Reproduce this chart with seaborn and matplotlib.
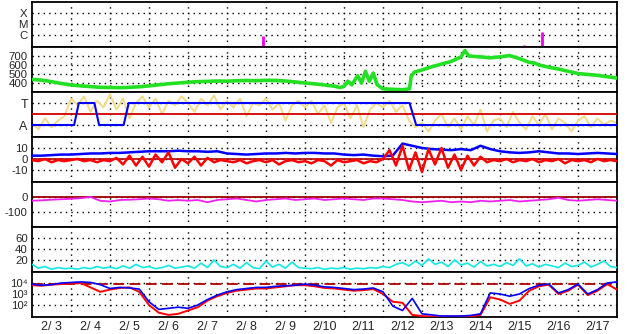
import numpy as np
import matplotlib
matplotlib.use("Agg")
import matplotlib.pyplot as plt
import seaborn as sns

# ---------------- data ----------------
day_labels = ["2/ 3", "2/ 4", "2/ 5", "2/ 6", "2/ 7", "2/ 8", "2/ 9", "2/10",
              "2/11", "2/12", "2/13", "2/14", "2/15", "2/16", "2/17"]

# X-ray flares (day, height in class units: C=1.1, M=2.1, X=3.1)
flare_day = [0.13, 5.93, 12.61, 13.07]
flare_level = [0.1, 1.02, 0.2, 1.38]

# solar wind speed (km/s)
speed_day = [0.0, 0.25, 0.5, 0.75, 1.0, 1.25, 1.5, 1.75, 2.0, 2.25, 2.5, 2.75,
             3.0, 3.25, 3.5, 3.75, 4.0, 4.25, 4.5, 4.75, 5.0, 5.25, 5.5, 5.75,
             6.0, 6.25, 6.5, 6.75, 7.0, 7.25, 7.5, 7.75, 7.9, 8.0, 8.1, 8.2,
             8.35, 8.45, 8.55, 8.65, 8.75, 8.85, 9.0, 9.25, 9.5, 9.68, 9.72,
             9.8, 10.0, 10.25, 10.5, 10.75, 11.0, 11.1, 11.2, 11.5, 11.75,
             12.0, 12.25, 12.5, 12.75, 12.9, 13.0, 13.25, 13.5, 13.75, 14.0,
             14.25, 14.5, 14.75, 15.0]
speed_val = [440, 432, 415, 395, 378, 368, 360, 352, 350, 348, 352, 358,
             368, 380, 392, 400, 408, 415, 418, 422, 420, 425, 428, 425,
             430, 428, 422, 412, 400, 390, 378, 365, 350, 362, 420, 380,
             480, 400, 530, 420, 510, 380, 335, 330, 325, 335, 470,
             520, 545, 580, 610, 640, 690, 760, 700, 690, 680,
             690, 705, 670, 630, 620, 600, 575, 555, 530, 505,
             495, 485, 470, 455]

# IMF sector (A = 0, T = 1), 6 per day
phi_val = [0.1, -0.2, 0.3, -0.1, 0.2, 0.4,
           1.2, 0.9, 1.3, 0.6, 1.1, 0.8,
           1.4, 0.7, 1.2, 0.3, 1.0, 1.3,
           0.8, 1.2, 0.5, 1.1, 0.9, 1.3,
           1.0, 0.6, 1.2, 0.9, 1.35, 0.7,
           1.1, 0.8, 1.2, 0.4, 1.0, 0.9,
           1.2, 0.7, 1.0, 0.2, 0.9, 1.1,
           0.8, 1.1, 0.5, 0.9, 0.1, 0.8,
           1.0, 0.3, 0.9, -0.1, 0.7, 1.0,
           0.8, 1.1, 0.6, 0.9, 0.2, -0.1,
           0.1, -0.3, 0.2, 0.5, -0.1, 0.3,
           -0.2, 0.4, 0.0, 0.7, -0.3, 0.2,
           0.3, -0.1, 0.6, 0.1, -0.2, 0.4,
           0.0, 0.5, -0.2, 0.3, 0.1, -0.3,
           0.2, 0.4, -0.1, 0.3, 0.0, 0.2, 0.1]
sector_day = [0.0, 1.08, 1.2, 1.6, 1.72, 2.35, 2.48, 9.68, 9.85, 15.0]
sector_val = [0, 0, 1, 1, 0, 0, 1, 1, 0, 0]

# IMF Bt (4 per day) and Bz (6 per day), nT
bt_val = [3, 3, 3.5, 4,
          4, 4.5, 5, 5,
          5.5, 5.5, 6, 6.5,
          7, 7, 7, 7.5,
          7, 7, 6.5, 7,
          5, 4.5, 4, 4.5,
          5, 5, 5.5, 5,
          5.5, 5.5, 5, 5,
          4, 3.5, 4, 3,
          2.5, 3, 14, 12,
          10, 9, 8.5, 8,
          9, 8, 12, 9,
          7, 6, 5.5, 6,
          7, 6, 5, 5,
          4.5, 5, 5.5, 5, 4.5]
bz_val = [-1, -2, 0, -3, -1, -2,
          -1, 0, -2, -1, -3, -1,
          -2, 1, -5, 3, -6, 2,
          -7, 4, -3, 6, -8, 0,
          -4, 2, -6, 1, -3, -1,
          -2, -3, -1, -4, -2, -1,
          -3, -1, -5, -2, -1, -3,
          -2, -4, -1, -2, -6, -1,
          -3, -2, -1, -4, -2, -3,
          0, 8, -6, 12, -10, 6,
          -12, 9, -5, 10, -8, 4,
          -10, 3, -6, 2, -3, -1,
          -2, 0, -3, -1, -2, 0,
          -3, -1, -2, 0, -4, -1,
          -2, -1, -3, 0, -2, -1, -2]

# Dst (nT), 4 per day
dst_val = [-25, -22, -18, -15,
           -12, -8, 0, -25,
           -30, -20, -18, -15,
           -10, -15, -25, -20,
           -25, -20, -35, -20,
           -15, -10, -20, -30,
           -20, -15, -10, -20,
           -15, -10, -20, -15,
           -10, -15, -20, -10,
           -10, -15, -20, -30,
           -35, -30, -25, -35,
           -30, -35, -25, -30,
           -25, -20, -30, -25,
           -20, -15, -5, -20,
           -25, -20, -15, -20, -25]

# cyan index, 6 per day
cyan_val = [12, 5, 8, 3, 6, 4,
            5, 3, 6, 4, 8, 5,
            7, 4, 9, 5, 12, 6,
            8, 4, 6, 10, 5, 7,
            9, 5, 14, 6, 20, 8,
            6, 12, 5, 15, 6, 4,
            18, 7, 12, 5, 16, 6,
            5, 4, 6, 3, 5, 4,
            6, 3, 5, 4, 6, 5,
            8, 6, 12, 15, 9, 18,
            10, 22, 12, 16, 8, 20,
            11, 14, 7, 17, 9, 12,
            8, 15, 10, 22, 9, 13,
            7, 12, 9, 6, 14, 8,
            10, 16, 7, 12, 18, 8, 6]

# electron flux, log10, 4 per day
e_blue_log = [3.9, 3.8, 3.85, 4.0,
              4.05, 4.1, 4.05, 3.85,
              3.5, 3.6, 3.55, 3.45,
              2.3, 1.6, 1.7, 1.8,
              1.7, 2.0, 2.5, 2.9,
              3.2, 3.4, 3.5, 3.6,
              3.6, 3.7, 3.75, 3.8,
              3.9, 3.8, 3.65, 3.6,
              3.5, 3.4, 3.45, 3.55,
              3.2, 1.9, 1.5, 2.6,
              1.2, 1.1, 1.0, 1.0,
              1.0, 1.05, 1.2, 3.1,
              3.0, 2.8, 3.0, 3.5,
              3.8, 3.9, 3.1, 3.4,
              3.9, 3.0, 3.4, 4.0, 4.1]
e_red_log = [3.8, 3.75, 3.85, 3.9,
             3.95, 4.0, 3.6, 3.2,
             3.4, 3.55, 3.6, 3.2,
             2.0, 1.3, 1.1, 1.2,
             1.5, 1.8, 2.4, 2.8,
             3.1, 3.3, 3.4, 3.5,
             3.5, 3.6, 3.7, 3.8,
             3.8, 3.7, 3.55, 3.5,
             3.4, 3.3, 3.35, 3.45,
             3.0, 2.3, 2.2, 1.1,
             1.0, 0.95, 0.95, 0.95,
             0.95, 0.95, 1.1, 2.7,
             2.5, 2.1, 2.4, 3.3,
             3.7, 3.85, 3.0, 3.3,
             3.85, 2.9, 3.3, 3.9, 3.4]
e_threshold = 3.95
e_tick_labels = ["10\u00b2", "10\u00b3", "10\u2074"]

# ---------------- style ----------------
sns.set_style("white")
plt.rcParams['font.family'] = ['Liberation Sans', 'DejaVu Sans']
FS = 8.2
FSX = 9
DOT = (0, (1, 3))

fig = plt.figure(figsize=(6.28, 3.34), dpi=100)
gs = fig.add_gridspec(7, 1, left=32/628, right=617/628,
                      top=1-2/334, bottom=1-317/334, hspace=0)
axes = [fig.add_subplot(gs[i, 0]) for i in range(7)]


def days(vals):
    return np.linspace(0, 15, len(vals))


def style(ax, ticks, labels, ylim, fs=FS):
    ax.set_xlim(0, 15)
    ax.set_ylim(*ylim)
    ax.set_yticks(ticks)
    ax.set_yticklabels(labels, fontsize=fs)
    ax.tick_params(axis='y', length=0, pad=3)
    ax.tick_params(axis='x', length=0)
    for s in ax.spines.values():
        s.set_color('black')
        s.set_linewidth(1.3)
    for t in ticks:
        ax.axhline(t, color='black', lw=1, ls=DOT, zorder=1)
    for d in range(1, 15):
        ax.axvline(d, color='black', lw=1, ls=DOT, zorder=1)
    ax.set_xticks([])
    ax.set_xlabel("")
    ax.set_ylabel("")


# panel 1: flares
ax = axes[0]
style(ax, [1.1, 2.1, 3.1], ["C", "M", "X"], (0, 4.1))
ax.vlines(flare_day, 0, flare_level, color='#F000F0', lw=2, zorder=3)

# panel 2: speed
ax = axes[1]
sns.lineplot(x=speed_day, y=speed_val, ax=ax, color='#22E022', lw=2.6,
             estimator=None, zorder=3)
style(ax, [400, 500, 600, 700], ["400", "500", "600", "700"], (300, 800))

# panel 3: sector
ax = axes[2]
sns.lineplot(x=days(phi_val), y=phi_val, ax=ax, color='#F3DA88', lw=1.4,
             estimator=None, zorder=2)
ax.axhline(0.5, color='#D00000', lw=1.3, zorder=3)
sns.lineplot(x=sector_day, y=sector_val, ax=ax, color='#0000FF', lw=1.5,
             estimator=None, zorder=4)
style(ax, [0, 1], ["A", "T"], (-0.545, 1.5), fs=9)

# panel 4: IMF
ax = axes[3]
sns.lineplot(x=days(bt_val), y=bt_val, ax=ax, color='#0000FF', lw=1.8,
             estimator=None, zorder=3)
ax.axhline(0, color='#B00000', lw=1.2, zorder=2)
sns.lineplot(x=days(bz_val), y=bz_val, ax=ax, color='#FF0000', lw=1.8,
             estimator=None, zorder=4)
style(ax, [-10, 0, 10], ["-10", "0", "10"], (-21, 20))

# panel 5: Dst
ax = axes[4]
ax.axhline(0, color='#A00000', lw=1.3, zorder=2)
sns.lineplot(x=days(dst_val), y=dst_val, ax=ax, color='#F020F0', lw=1.3,
             estimator=None, zorder=3)
style(ax, [-100, 0], ["-100", "0"], (-200, 100))

# panel 6: cyan
ax = axes[5]
sns.lineplot(x=days(cyan_val), y=cyan_val, ax=ax, color='#10E8E8', lw=1.2,
             estimator=None, zorder=3)
style(ax, [20, 40, 60], ["20", "40", "60"], (-2, 80))

# panel 7: electrons
ax = axes[6]
ax.set_yscale('log')
ax.axhline(10 ** e_threshold, color='#B00000', lw=1.3, ls=(0, (6, 3)), zorder=2)
sns.lineplot(x=days(e_red_log), y=10 ** np.array(e_red_log), ax=ax,
             color='#FF0000', lw=1.4, estimator=None, zorder=3)
sns.lineplot(x=days(e_blue_log), y=10 ** np.array(e_blue_log), ax=ax,
             color='#0000FF', lw=1.2, estimator=None, zorder=4)
style(ax, [1e2, 1e3, 1e4], e_tick_labels, (10 ** 0.91, 1e5), fs=8.2)
ax.minorticks_off()
ax.set_xticks(np.arange(15) + 0.5)
ax.set_xticklabels(day_labels, fontsize=FSX)
ax.tick_params(axis='x', length=0, pad=3)

fig.savefig("out.png", dpi=100)
